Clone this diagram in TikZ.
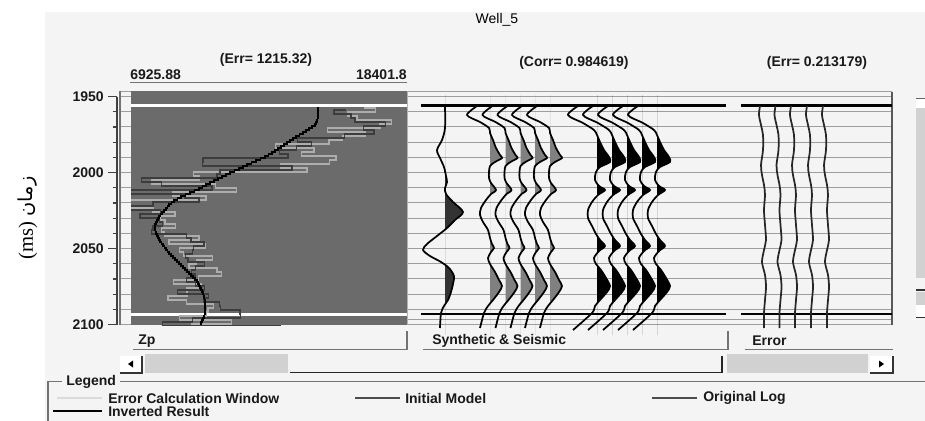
\documentclass[tikz,border=0pt]{standalone}
\usepackage{fontspec}
\setmainfont{Liberation Sans}
\newfontfamily\arabfont[Script=Arabic]{DejaVu Sans}
\newfontfamily\seriffont{Liberation Serif}
\TeXXeTstate=1
\definecolor{panelg}{gray}{0.42}
\definecolor{gridg}{gray}{0.62}
\definecolor{winbg}{gray}{0.955}
\definecolor{logl}{gray}{0.68}
\definecolor{logd}{gray}{0.24}
\definecolor{fillg}{gray}{0.50}
\definecolor{filld}{gray}{0.20}
\definecolor{thumbg}{gray}{0.82}
\newcommand\wig[3]{%
  \begin{scope}[shift={(#1,0)}]
    \begin{scope}
      \clip (0,95) rectangle (45,335);
      \fill[#2] plot[smooth] coordinates {#3} -- (0,335) -- (0,95) -- cycle;
    \end{scope}
    \draw[trace] plot[smooth] coordinates {#3};
  \end{scope}}
\newcommand\wigS[1]{\wig{#1}{filld}{(0,106) (0,128) (-3,140) (-8,150) (-5,158) (-1,167) (1,176) (2,182) (0,188) (1,194) (8,202) (18,212) (10,220) (2,228) (-8,236) (-18,244) (-22,250) (-15,256) (-4,262) (4,268) (9,276) (8,284) (6,292) (3,300) (-1,306) (-4,313) (-5,328)}}
\newcommand\wigG[1]{\wig{#1}{fillg}{(-13,106) (-23,115) (-10,122) (-1,128) (0,133) (3,140) (6,148) (10,155) (12,158) (5,162) (0,166) (-1,172) (-1,178) (1,183) (6,190) (1,194) (-4,200) (-9,208) (-10,215) (-7,222) (-2,230) (0,238) (2,244) (4,248) (1,252) (-2,258) (0,264) (5,272) (9,280) (12,286) (9,292) (3,300) (-2,306) (-6,313) (-10,328)}}
\newcommand\wigB[1]{\wig{#1}{black}{(-19,106) (-29,115) (-14,123) (-3,130) (0,135) (3,142) (7,150) (12,157) (13,162) (3,167) (-1,172) (-2,180) (2,186) (8,190) (1,195) (-5,202) (-9,210) (-9,218) (-5,226) (-1,234) (3,240) (8,246) (2,251) (-3,258) (-1,264) (4,270) (9,278) (13,286) (10,292) (3,300) (-2,306) (-5,313) (-24,330)}}
\def\zplist{108/318/45/35, 112/318/55/35, 116/318/40/30, 120/317/35/25, 124/315/35/25, 128/309/35/25, 132/303/40/25, 136/296/40/25, 140/290/30/25, 144/284/25/30, 148/278/20/35, 152/272/10/45, 156/265/0/55, 160/256/-5/60, 164/247/-5/55, 168/239/-10/55, 172/230/-10/50, 176/222/-15/45, 180/214/-10/45, 184/206/-10/40, 188/199/-15/35, 192/190/-15/35, 196/181/-15/30, 200/174/-15/25, 204/169/-20/20, 208/166/-20/15, 212/162/-10/15, 216/159/0/12, 220/157/5/10, 224/155/8/10, 228/155/12/10, 232/156/18/12, 236/158/22/12, 240/160/28/12, 244/163/32/12, 248/166/32/12, 252/169/28/12, 256/173/24/12, 260/177/18/14, 264/181/16/14, 268/185/12/14, 272/189/10/14, 276/193/5/14, 280/197/0/18, 284/199/-5/18, 288/201/-5/18, 292/203/-10/18, 296/204/-15/18, 300/205/-10/22, 304/205/0/28, 308/205/10/32, 312/205/15/35, 316/204/15/40, 320/202/25/45, 324/200/35/50}
\begin{document}
\begin{tikzpicture}[x=0.75pt,y=-0.75pt,
  lbl/.style={font=\fontsize{10.5}{12}\selectfont\bfseries, inner sep=0pt, text=black!90},
  grid/.style={gridg, line width=0.75pt},
  trace/.style={black, line width=1.3pt},
  etrace/.style={black!85, line width=1.3pt},
  bar/.style={black, line width=1.8pt},
  edge/.style={black!55, line width=0.8pt},
  logline/.style={line width=1pt}]
\useasboundingbox (0,0) rectangle (925,421);
\fill[white] (0,0) rectangle (925,421);
\fill[winbg] (45,12) rectangle (925,421);

% titles
\node[font=\fontsize{10.5}{12}\selectfont, inner sep=0pt] (well) at (497,20) {Well\_5};
\node[lbl] (errzp) at (266,60) {(Err= 1215.32)};
\node[lbl, anchor=west] (minv) at (130,75) {6925.88};
\node[lbl, anchor=east] (maxv) at (407,75) {18401.8};
\draw[edge] (130,82.5) -- (407,82.5);
\node[lbl] (corr) at (574,63) {(Corr= 0.984619)};
\node[lbl] (errerr) at (817,63) {(Err= 0.213179)};

% grid
\draw[grid] (120,91.5) -- (892,91.5);
\foreach \k in {0,...,15} \draw[grid] (120,{96.5+15.2*\k}) -- (892,{96.5+15.2*\k});
\draw[grid] (407,319.5) -- (892,319.5);
\draw[edge] (120,91) -- (120,325);
\draw[black!65, line width=1pt] (892,91.5) -- (892,325);

% Zp panel
\fill[panelg] (131,91) rectangle (407,325);
\fill[white] (131,104) rectangle (407,107);
\fill[white] (131,313) rectangle (407,316);
\draw[black!30, line width=0.5pt] (407.5,91) -- (407.5,325);
\begin{scope}
  \clip (131,107) rectangle (407,325);
  \pgfmathsetseed{7}
  \draw[logl, logline] (365,107) \foreach \y/\x/\b/\a in \zplist { |- ({\x+\b+1.6*\a*rand},\y) };
  \pgfmathsetseed{23}
  \draw[logd, logline] (345,109) \foreach \y/\x/\b/\a in \zplist { |- ({\x+\b+1.6*\a*rand},{\y+2}) };
  \draw[black, line width=1.1pt] (318,107) \foreach \y/\x/\b/\a [remember=\x as \px (initially 318)] in \zplist { |- ({(\px+\x)/2},{\y-2}) |- (\x,\y) };
\end{scope}

% axis
\draw[black!75, line width=0.9pt] (117,96.5) -- (117,324.5);
\foreach \k in {0,...,15} \draw[black!75, line width=0.9pt] (112.5,{96.5+15.2*\k}) -- (117,{96.5+15.2*\k});
\foreach \k in {0,5,10,15} \draw[black!75, line width=0.9pt] (108,{96.5+15.2*\k}) -- (117,{96.5+15.2*\k});
\node[lbl, anchor=east] (t1950) at (104,97) {1950};
\node[lbl, anchor=east] (t2000) at (104,173) {2000};
\node[lbl, anchor=east] (t2050) at (104,249) {2050};
\node[lbl, anchor=east] (t2100) at (104,325) {2100};
\node[rotate=90, inner sep=0pt] (ylab) at (28,218) {\fontsize{15.5}{18}\selectfont\seriffont (ms) {\arabfont\fontsize{14.5}{16}\selectfont\beginR زمان\endR}};

% bars
\draw[bar] (421,105.5) -- (726,105.5);
\draw[bar] (741,105.5) -- (892,105.5);
\draw[bar] (421,314) -- (726,314);
\draw[bar] (741,314) -- (892,314);

% traces
\wigS{445}
\foreach \b in {490,505.5,520.5,535,550} {\wigG{\b}}
\foreach \b in {597,612,627,642,657} {\wigB{\b}}
\foreach \b in {762,777.5,793,809,825} {
  \begin{scope}[shift={(\b,0)}]
    \draw[etrace] plot[smooth] coordinates {(-2,106) (-3,115) (-1,125) (1,135) (1,150) (-1,165) (0,175) (2,185) (3,195) (2,210) (3,225) (4,240) (2,250) (0,262) (3,275) (4,287) (3,300) (2,313) (2,328)};
  \end{scope}}

% track labels
\draw[edge] (133,349.5) -- (407,349.5) -- (407,331);
\node[lbl, anchor=west] (zp) at (138,341) {Zp};
\draw[edge] (423,349.5) -- (728,349.5) -- (728,331);
\node[lbl, anchor=west] (synth) at (432,341) {Synthetic \& Seismic};
\draw[edge] (745,349.5) -- (893,349.5);
\node[lbl, anchor=west] (err) at (752,341) {Error};

% horizontal scrollbar
\fill[white] (120,356) rectangle (142,373);
\draw[black!80, line width=0.9pt] (120,373) -- (142,373) -- (142,356);
\fill[black] (128,364) -- (133,360.5) -- (133,367.5) -- cycle;
\fill[thumbg] (145,354) rectangle (288,373);
\draw[black!85, line width=1pt] (290,372.5) -- (722,372.5) -- (722,356);
\fill[thumbg] (727,354) rectangle (868,373);
\fill[white] (870,356) rectangle (893,373);
\draw[black!80, line width=0.9pt] (870,373) -- (893,373) -- (893,356);
\fill[black] (884,364) -- (879,360.5) -- (879,367.5) -- cycle;

% vertical scrollbar (right)
\fill[white] (916,98) rectangle (925,108);
\draw[black!60, line width=0.6pt] (916,98) -- (925,98);
\fill[thumbg] (916,108) rectangle (925,278);
\draw[black!80, line width=0.9pt] (916,290) -- (925,290);
\fill[thumbg] (916,292) rectangle (925,305);
\fill[white] (916,305) rectangle (925,317);
\draw[black!80, line width=0.9pt] (916,317.5) -- (925,317.5);

% legend
\draw[edge] (48,421) -- (48,381.5) -- (62,381.5);
\draw[edge] (120,381.5) -- (925,381.5);
\node[lbl, anchor=west] (legend) at (66,381.5) {Legend};
\draw[black!14, line width=2pt] (57,398) -- (102,398);
\node[lbl, anchor=west] (lg1) at (108,398) {Error Calculation Window};
\draw[black!70, line width=1pt] (355,398) -- (400,398);
\node[lbl, anchor=west] (lg2) at (405,398) {Initial Model};
\draw[black!70, line width=1pt] (652,398) -- (697,398);
\node[lbl, anchor=west] (lg3) at (703,398) {Original Log};
\draw[black, line width=1pt] (53,411) -- (102,411);
\node[lbl, anchor=west] (lg4) at (108,411) {Inverted Result};
\end{tikzpicture}
\end{document}
